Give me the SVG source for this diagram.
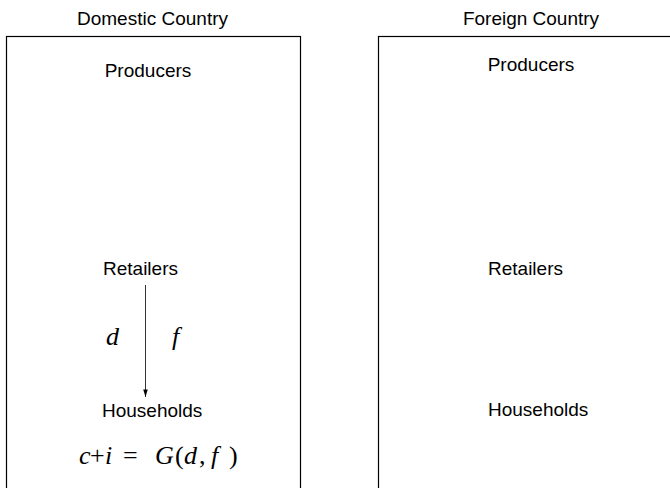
<svg xmlns="http://www.w3.org/2000/svg" width="670" height="488" viewBox="0 0 670 488">
<style>
.lbl{font-family:"Liberation Sans",Arial,sans-serif;font-size:19px;fill:#000}
.box{fill:none;stroke:#000;stroke-width:1.2}
.m{font-family:"Liberation Serif","Times New Roman",serif;font-size:26px;fill:#000}
.mi{font-style:italic}
</style>
<defs>
<marker id="ah" viewBox="0 0 10 6" refX="10" refY="3" markerWidth="9" markerHeight="4.5" orient="auto" markerUnits="userSpaceOnUse">
<path d="M0,0 L10,3 L0,6 Z" fill="#000"/>
</marker>
</defs>
<g id="domestic">
<text class="lbl" x="152.5" y="25" text-anchor="middle">Domestic Country</text>
<rect class="box" x="6.5" y="36.5" width="294" height="460"/>
</g>
<g id="foreign">
<text class="lbl" x="531" y="25" text-anchor="middle">Foreign Country</text>
<rect class="box" x="378.5" y="36.5" width="300" height="460"/>
</g>
<g id="dom-producers"><text class="lbl" x="148" y="77" text-anchor="middle">Producers</text></g>
<g id="dom-retailers"><text class="lbl" x="103" y="275">Retailers</text></g>
<g id="dom-households"><text class="lbl" x="102" y="417">Households</text></g>
<g id="for-producers"><text class="lbl" x="531" y="71" text-anchor="middle">Producers</text></g>
<g id="for-retailers"><text class="lbl" x="488" y="275">Retailers</text></g>
<g id="for-households"><text class="lbl" x="488" y="416">Households</text></g>
<g id="connectors">
<line x1="145.5" y1="285" x2="145.5" y2="397" stroke="#000" stroke-width="0.8" marker-end="url(#ah)"/>
<text class="m mi" x="106" y="345">d</text>
<text class="m mi" x="172" y="345">f</text>
</g>
<g id="formula">
<text class="m" y="464"><tspan class="mi" x="79">c</tspan><tspan x="90">+</tspan><tspan class="mi" x="105">i</tspan><tspan x="123">=</tspan><tspan class="mi" x="155">G</tspan><tspan x="175">(</tspan><tspan class="mi" x="184">d</tspan><tspan x="199">,</tspan><tspan class="mi" x="211">f</tspan><tspan x="229">)</tspan></text>
</g>
</svg>
